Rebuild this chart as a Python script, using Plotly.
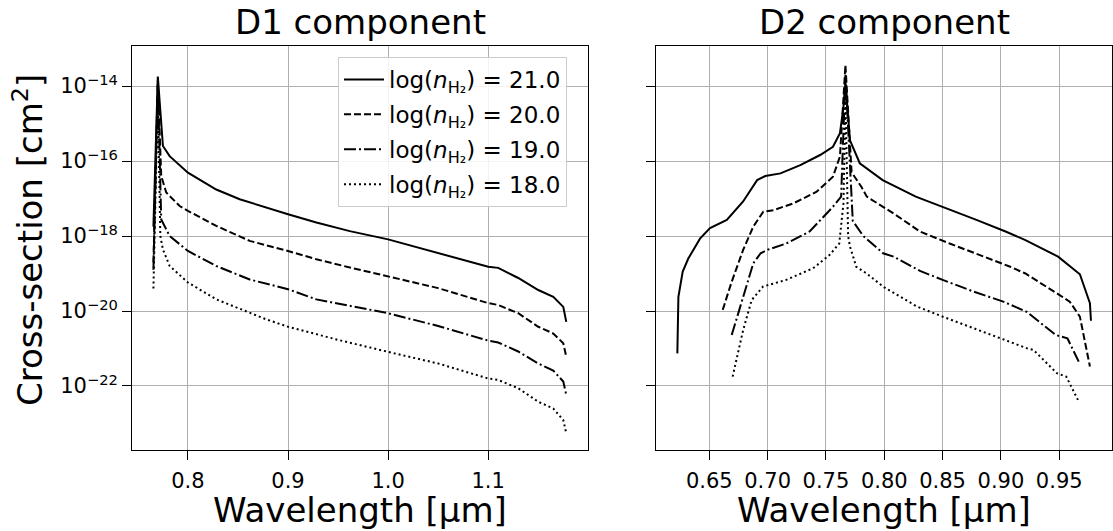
import numpy as np
import plotly.graph_objects as go

# ---------------- data (log10 of cross-section in cm^2) ----------------
labels = ["21.0", "20.0", "19.0", "18.0"]

# D1 component
d1_x_21 = [0.7655, 0.7699, 0.7750, 0.7817, 0.800, 0.8283, 0.8517, 0.875, 0.900, 0.9283, 0.9617, 1.000, 1.050, 1.100, 1.110, 1.130, 1.150, 1.165, 1.175, 1.178]
d1_y_21 = [-17.75, -13.75, -15.60, -15.87, -16.31, -16.76, -17.02, -17.22, -17.42, -17.64, -17.87, -18.09, -18.45, -18.82, -18.85, -19.12, -19.44, -19.62, -19.89, -20.29]

d1_x_20 = [0.7655, 0.7699, 0.7733, 0.7783, 0.7917, 0.800, 0.8283, 0.8617, 0.900, 0.9283, 0.9617, 1.000, 1.050, 1.100, 1.110, 1.130, 1.150, 1.165, 1.175, 1.178]
d1_y_20 = [-18.70, -13.85, -16.40, -16.84, -17.20, -17.33, -17.73, -18.13, -18.40, -18.62, -18.84, -19.07, -19.39, -19.79, -19.84, -20.06, -20.42, -20.60, -20.86, -21.22]

d1_x_19 = [0.7655, 0.7699, 0.7733, 0.7817, 0.800, 0.8283, 0.8617, 0.900, 0.9283, 0.9617, 1.000, 1.050, 1.100, 1.110, 1.130, 1.150, 1.165, 1.175, 1.178]
d1_y_19 = [-18.90, -13.95, -17.56, -18.00, -18.40, -18.80, -19.16, -19.42, -19.69, -19.87, -20.06, -20.40, -20.79, -20.84, -21.08, -21.40, -21.59, -21.88, -22.24]

d1_x_18 = [0.7655, 0.7699, 0.7724, 0.7750, 0.7817, 0.800, 0.8283, 0.8617, 0.878, 0.900, 0.950, 1.000, 1.050, 1.100, 1.110, 1.130, 1.150, 1.165, 1.175, 1.178]
d1_y_18 = [-19.40, -14.30, -18.00, -18.36, -18.80, -19.24, -19.69, -20.04, -20.22, -20.42, -20.77, -21.09, -21.40, -21.80, -21.84, -22.06, -22.42, -22.60, -22.91, -23.26]

# D2 component
d2_x_21 = [0.6226, 0.6235, 0.6272, 0.632, 0.642, 0.6506, 0.665, 0.679, 0.691, 0.698, 0.711, 0.728, 0.745, 0.756, 0.762, 0.7649, 0.7667, 0.7706, 0.779, 0.7986, 0.827, 0.850, 0.879, 0.904, 0.921, 0.949, 0.9677, 0.9763, 0.9772]
d2_y_21 = [-21.13, -19.62, -18.95, -18.60, -18.07, -17.79, -17.57, -17.08, -16.51, -16.40, -16.33, -16.11, -15.84, -15.62, -15.26, -14.60, -13.90, -15.45, -16.06, -16.51, -16.95, -17.22, -17.57, -17.88, -18.11, -18.55, -19.02, -19.79, -20.26]

d2_x_20 = [0.6615, 0.6692, 0.679, 0.6877, 0.6963, 0.705, 0.722, 0.742, 0.756, 0.762, 0.7667, 0.772, 0.7806, 0.785, 0.808, 0.8306, 0.856, 0.885, 0.908, 0.921, 0.9278, 0.950, 0.959, 0.9677, 0.9763]
d2_y_20 = [-19.97, -19.22, -18.37, -17.75, -17.35, -17.31, -17.13, -16.82, -16.42, -15.88, -13.44, -16.30, -16.70, -16.95, -17.40, -17.88, -18.20, -18.55, -18.82, -19.00, -19.13, -19.57, -19.75, -20.15, -21.48]

d2_x_19 = [0.6692, 0.6763, 0.6877, 0.694, 0.7006, 0.716, 0.736, 0.756, 0.763, 0.7667, 0.773, 0.782, 0.799, 0.808, 0.8306, 0.850, 0.8764, 0.902, 0.922, 0.947, 0.957, 0.9667]
d2_y_19 = [-20.64, -19.88, -18.73, -18.46, -18.36, -18.20, -17.88, -17.22, -16.95, -13.70, -17.60, -18.00, -18.46, -18.55, -18.93, -19.17, -19.48, -19.75, -20.02, -20.64, -20.73, -21.35]

d2_x_18 = [0.670, 0.679, 0.6863, 0.696, 0.716, 0.739, 0.753, 0.7614, 0.765, 0.7667, 0.769, 0.7706, 0.776, 0.7849, 0.799, 0.828, 0.850, 0.876, 0.899, 0.922, 0.928, 0.948, 0.956, 0.966]
d2_y_18 = [-21.75, -20.51, -19.71, -19.35, -19.17, -18.86, -18.51, -18.20, -17.13, -14.20, -18.00, -18.28, -18.82, -19.00, -19.35, -19.88, -20.15, -20.46, -20.73, -20.99, -21.04, -21.66, -21.75, -22.37]

d1_series = [(d1_x_21, d1_y_21), (d1_x_20, d1_y_20), (d1_x_19, d1_y_19), (d1_x_18, d1_y_18)]
d2_series = [(d2_x_21, d2_y_21), (d2_x_20, d2_y_20), (d2_x_19, d2_y_19), (d2_x_18, d2_y_18)]

y_tick_exps = [-22, -20, -18, -16, -14]
d1_xticks = [0.8, 0.9, 1.0, 1.1]
d2_xticks = [0.65, 0.70, 0.75, 0.80, 0.85, 0.90, 0.95]

# ---------------- styling ----------------
W, H = 1113, 531
FONT = "DejaVu Sans"
dashes = ["solid", "7px,3px", "12px,3px,2px,3px", "2px,3px"]
LW = 2

fig = go.Figure()
for i, (xs, ys) in enumerate(d1_series):
    fig.add_trace(go.Scatter(
        x=xs, y=10.0 ** np.array(ys), mode="lines",
        line=dict(color="black", width=LW, dash=dashes[i]),
        name="log(<i>n</i><sub>H₂</sub>) = " + labels[i],
        legendgroup=labels[i], xaxis="x", yaxis="y"))
for i, (xs, ys) in enumerate(d2_series):
    fig.add_trace(go.Scatter(
        x=xs, y=10.0 ** np.array(ys), mode="lines",
        line=dict(color="black", width=LW, dash=dashes[i]),
        showlegend=False, legendgroup=labels[i], xaxis="x2", yaxis="y2"))

def px_x(p):
    return p / W

def px_y(p):
    return 1 - p / H

common_axis = dict(
    showline=True, linecolor="black", linewidth=1.3, mirror=True,
    showgrid=True, gridcolor="#b0b0b0", gridwidth=1,
    ticks="outside", ticklen=9, tickwidth=1.2, tickcolor="black",
    tickfont=dict(family=FONT, size=21, color="black"),
    zeroline=False, automargin=False,
)

ydom = [px_y(450), px_y(45.7)]
ytickvals = [10.0 ** e for e in y_tick_exps]
yticktext = ["10<sup>\u2212%d</sup>" % (-e) for e in y_tick_exps]

fig.update_layout(
    width=W, height=H,
    margin=dict(l=0, r=0, t=0, b=0),
    paper_bgcolor="white", plot_bgcolor="white",
    font=dict(family=FONT, color="black"),
    xaxis=dict(domain=[px_x(132.3), px_x(587.7)], range=[0.7444, 1.1994],
               tickvals=d1_xticks, ticktext=["0.8", "0.9", "1.0", "1.1"],
               ticklabelstandoff=3, anchor="y", **common_axis),
    yaxis=dict(domain=ydom, type="log", range=[-23.707, -12.925],
               tickvals=ytickvals, ticktext=yticktext, anchor="x", **common_axis),
    xaxis2=dict(domain=[px_x(656), px_x(1111.5)], range=[0.6043, 0.9948],
                tickvals=d2_xticks, ticktext=["%.2f" % v for v in d2_xticks],
                ticklabelstandoff=3, anchor="y2", **common_axis),
    yaxis2=dict(domain=ydom, type="log", range=[-23.707, -12.925],
                tickvals=ytickvals, showticklabels=False, anchor="x2", **common_axis),
    legend=dict(x=px_x(338), y=px_y(57), xanchor="left", yanchor="top",
                bgcolor="rgba(255,255,255,0.85)", bordercolor="#cccccc", borderwidth=1,
                font=dict(family=FONT, size=23, color="black"),
                tracegroupgap=2, itemwidth=40),
    showlegend=True,
)

ann_font = dict(family=FONT, size=34, color="black")
annotations = [
    dict(text="D1 component", x=px_x(360), y=px_y(22), xref="paper", yref="paper",
         showarrow=False, font=ann_font, xanchor="center", yanchor="middle"),
    dict(text="D2 component", x=px_x(884), y=px_y(22), xref="paper", yref="paper",
         showarrow=False, font=ann_font, xanchor="center", yanchor="middle"),
    dict(text="Wavelength [µm]", x=px_x(360), y=px_y(510), xref="paper", yref="paper",
         showarrow=False, font=ann_font, xanchor="center", yanchor="middle"),
    dict(text="Wavelength [µm]", x=px_x(884), y=px_y(510), xref="paper", yref="paper",
         showarrow=False, font=ann_font, xanchor="center", yanchor="middle"),
    dict(text="Cross-section [cm<sup>2</sup>]", x=px_x(28), y=px_y(240), xref="paper", yref="paper",
         showarrow=False, font=ann_font, xanchor="center", yanchor="middle", textangle=-90),
]
fig.update_layout(annotations=annotations)

fig.write_html("out.html")
